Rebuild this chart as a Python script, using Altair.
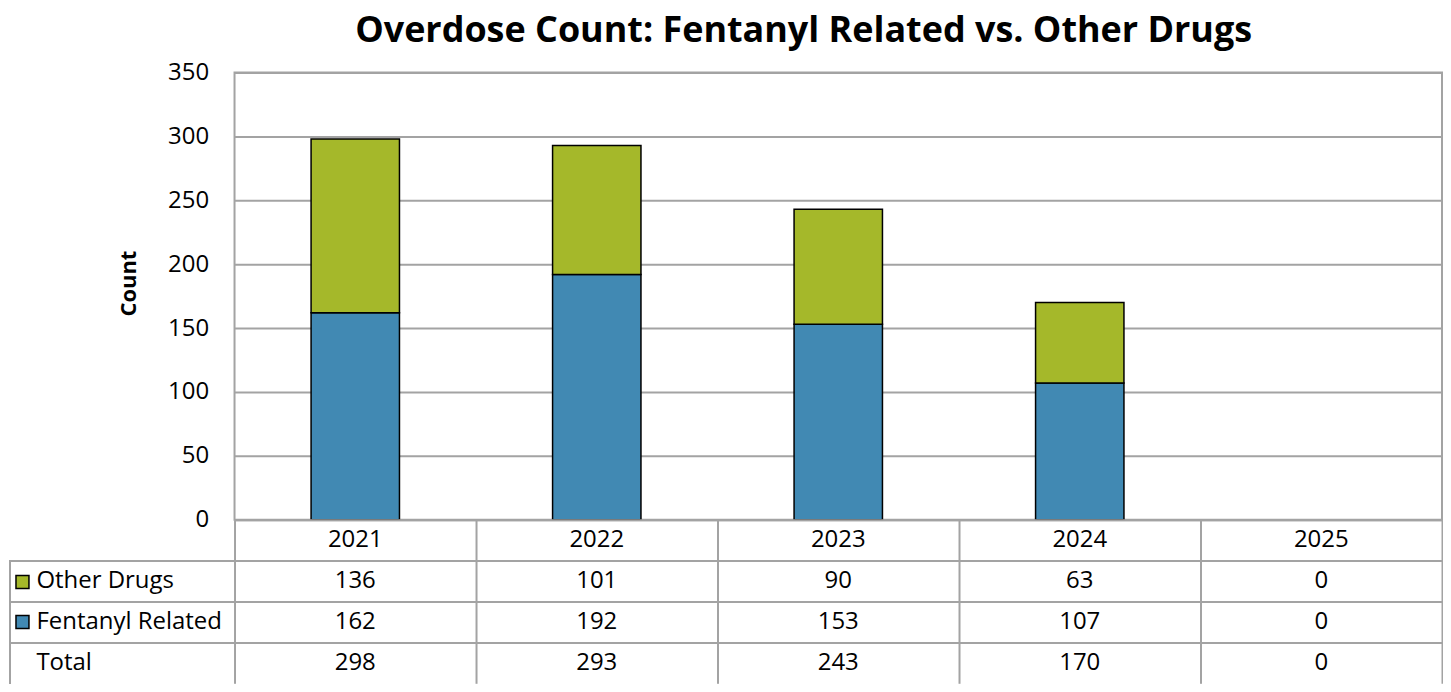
import altair as alt
import pandas as pd

# ---- data ----
years = ["2021", "2022", "2023", "2024", "2025"]
other_drugs = [136, 101, 90, 63, 0]
fentanyl = [162, 192, 153, 107, 0]
totals = [298, 293, 243, 170, 0]
series = ["Other Drugs", "Fentanyl Related"]
series_colors = ["#A5B82A", "#4189B3"]
row_names = ["Year", "Other Drugs", "Fentanyl Related", "Total"]
y_ticks = [0, 50, 100, 150, 200, 250, 300, 350]
chart_title = "Overdose Count: Fentanyl Related vs. Other Drugs"

FONT = "Open Sans"
GRID = "#a3a3a3"
W = 1210
TABLE_H = 164

# long table for bars (Fentanyl stacked at bottom)
bar_rows = []
for i, yr in enumerate(years):
    bar_rows.append({"year": yr, "series": "Fentanyl Related", "value": fentanyl[i], "stack_idx": 0})
    bar_rows.append({"year": yr, "series": "Other Drugs", "value": other_drugs[i], "stack_idx": 1})
bar_df = pd.DataFrame(bar_rows)

# long table for the data table below
tab_rows = []
for i, yr in enumerate(years):
    tab_rows.append({"year": yr, "row": "Year", "label": yr})
    tab_rows.append({"year": yr, "row": "Other Drugs", "label": str(other_drugs[i])})
    tab_rows.append({"year": yr, "row": "Fentanyl Related", "label": str(fentanyl[i])})
    tab_rows.append({"year": yr, "row": "Total", "label": str(totals[i])})
tab_df = pd.DataFrame(tab_rows)

x_scale = alt.Scale(domain=years, paddingInner=0, paddingOuter=0)

bars = alt.Chart(bar_df).transform_filter("datum.value > 0").mark_bar(
    stroke="black", strokeWidth=1.5, width=alt.RelativeBandSize(0.366)
).encode(
    x=alt.X("year:N", sort=years, scale=x_scale, axis=None),
    y=alt.Y(
        "value:Q", stack="zero",
        scale=alt.Scale(domain=[0, 350], nice=False),
        axis=alt.Axis(
            values=y_ticks, title="Count", titleFont=FONT, titleFontSize=22,
            titleFontWeight="bold", titleColor="black", titleX=-94, titleY=211,
            labelFont=FONT, labelFontSize=24, labelColor="black", labelPadding=26,
            ticks=False, domain=False, grid=True, gridColor=GRID, gridWidth=2,
        ),
    ),
    color=alt.Color(
        "series:N",
        scale=alt.Scale(domain=series, range=series_colors),
        legend=alt.Legend(
            title=None, orient="none", legendX=-220, legendY=503,
            symbolType="square", symbolSize=169, symbolStrokeColor="black",
            symbolStrokeWidth=1.5, symbolOpacity=1, labelExpr="''",
            rowPadding=21, padding=0, labelOffset=0,
        ),
    ),
    order=alt.Order("stack_idx:Q"),
).properties(
    width=W, height=448,
    view=alt.ViewBackground(stroke=GRID, strokeWidth=2),
)

table_text = alt.Chart(tab_df).mark_text(font=FONT, fontSize=24, color="black").encode(
    x=alt.X(
        "year:N", sort=years, scale=x_scale,
        axis=alt.Axis(
            title=None, labels=False, ticks=False, domain=False, grid=True,
            gridColor=GRID, gridWidth=2, tickBand="extent",
        ),
    ),
    y=alt.Y(
        "row:N", sort=row_names,
        scale=alt.Scale(domain=row_names, paddingInner=0, paddingOuter=0),
        axis=alt.Axis(
            title=None, domain=False, grid=True, gridColor=GRID, gridWidth=2,
            gridOpacity=alt.condition("datum.value == 'Total'", alt.value(0), alt.value(1)),
            tickBand="extent", ticks=True, tickSize=225, tickColor=GRID, tickWidth=2,
            tickOpacity=alt.condition("datum.value == 'Year' || datum.value == 'Other Drugs' || datum.value == 'Fentanyl Related'", alt.value(1), alt.value(0)),
            labelExpr="datum.value == 'Year' ? '' : datum.value",
            labelAlign="left", labelPadding=-26, labelFont=FONT, labelFontSize=24,
            labelColor="black", labelLimit=400,
        ),
    ),
    text="label:N",
)

# left border of the row-label column (decoration)
left_border = alt.Chart(tab_df).mark_rule(color=GRID, strokeWidth=2).encode(
    x=alt.value(-225), y=alt.value(TABLE_H / 4), y2=alt.value(TABLE_H),
)

table = alt.layer(table_text, left_border).properties(
    width=W, height=TABLE_H,
    view=alt.ViewBackground(stroke="transparent"),
)

chart = alt.vconcat(bars, table, spacing=0, bounds="flush").properties(
    title=alt.TitleParams(
        chart_title, font=FONT, fontSize=36, fontWeight="bold", color="black",
        anchor="middle", dx=78, offset=10,
    ),
    padding={"top": 4, "left": 0, "right": 0, "bottom": 0},
).configure_view(stroke="transparent")

chart.save("out.html", embed_options={"renderer": "svg", "actions": False})
